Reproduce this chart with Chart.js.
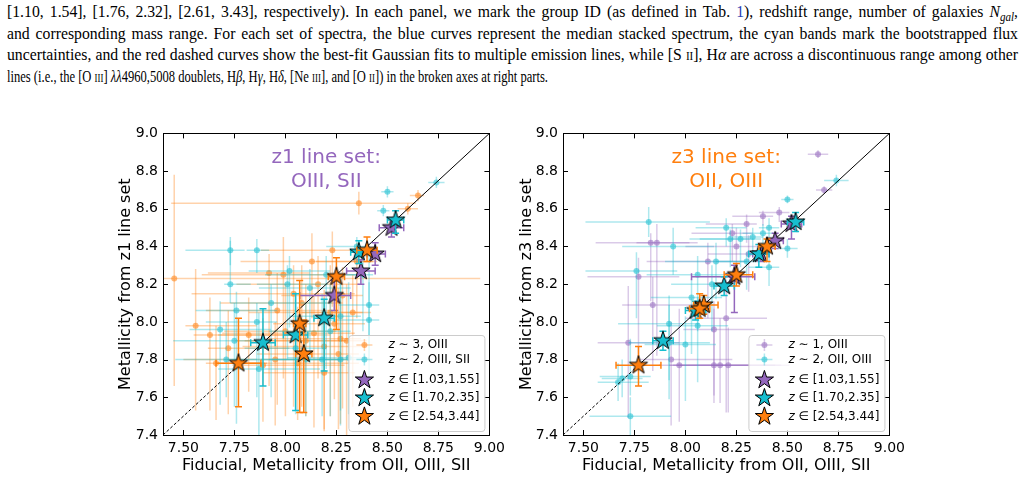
<!DOCTYPE html>
<html>
<head>
<meta charset="utf-8">
<script src="https://cdn.jsdelivr.net/npm/chart.js@4.4.1/dist/chart.umd.min.js"></script>
<style>
  html, body { margin: 0; padding: 0; background: #fff; }
  body { width: 1025px; height: 480px; position: relative; overflow: hidden; }
  .cap { position: absolute; left: 7px; transform-origin: 0 0; white-space: nowrap;
         font-family: 'Liberation Serif', serif; font-size: 17px; line-height: 21.7px; color: #000; }
  #cap13 { top: 1px; width: 3000px; }
  #cap4 { top: 66px; }
  #cap13.j .ln { white-space: normal; text-align: justify; text-align-last: justify; }
  .sc { font-variant: small-caps; }
  .ref { color: #2b3fb5; }
  sub { font-size: 70%; line-height: 0; }
  canvas { position: absolute; top: 120px; }
  #left { left: 100px; }
  #right { left: 500px; }
</style>
</head>
<body>
<div class="cap" id="cap13">
  <div class="ln"><span>[1.10, 1.54], [1.76, 2.32], [2.61, 3.43], respectively). In each panel, we mark the group ID (as defined in Tab. <span class="ref">1</span>), redshift range, number of galaxies <i>N<sub>gal</sub></i>,</span></div>
  <div class="ln"><span>and corresponding mass range. For each set of spectra, the blue curves represent the median stacked spectrum, the cyan bands mark the bootstrapped flux</span></div>
  <div class="ln"><span>uncertainties, and the red dashed curves show the best-fit Gaussian fits to multiple emission lines, while [S <span class="sc">ii</span>], H<i>α</i> are across a discontinuous range among other</span></div>
</div>
<div class="cap" id="cap4"><span id="l4">lines (i.e., the [O <span class="sc">iii</span>] <i>λλ</i>4960,5008 doublets, H<i>β</i>, H<i>γ</i>, H<i>δ</i>, [Ne <span class="sc">iii</span>], and [O <span class="sc">ii</span>]) in the broken axes at right parts.</span></div>
<canvas id="left" width="410" height="360"></canvas>
<canvas id="right" width="410" height="360"></canvas>
<script>
// ---- data ----
const xTicks = [7.5, 7.75, 8.0, 8.25, 8.5, 8.75, 9.0];
const yTicks = [7.4, 7.6, 7.8, 8.0, 8.2, 8.4, 8.6, 8.8, 9.0];
const oneToOne = [7.4, 9.0];
const dashedUpTo = 7.76;

// rows: [x, y, xErrLow, xErrHigh, yErrLow, yErrHigh]
// left panel: z1 line set (OIII, SII)
const z1BgZ3 = [
  [7.455, 8.23, 0.05, 1.50, 0.57, 0.55], [8.36, 8.63, 0.92, 0.28, 0.06, 0.06],
  [8.65, 8.67, 0.04, 0.03, 0.03, 0.03], [8.60, 8.60, 0.05, 0.05, 0.03, 0.03],
  [8.13, 8.32, 0.35, 0.30, 0.30, 0.15], [7.99, 8.25, 0.40, 0.35, 0.55, 0.20],
  [7.92, 8.26, 0.30, 0.20, 0.60, 0.10], [8.23, 8.38, 0.35, 0.15, 0.30, 0.10],
  [7.66, 7.78, 0.05, 0.25, 0.30, 0.20], [8.14, 7.94, 0.45, 0.20, 0.50, 0.20],
  [8.30, 7.90, 0.50, 0.10, 0.50, 0.30], [8.26, 7.83, 0.40, 0.10, 0.40, 0.35],
  [7.95, 7.80, 0.45, 0.35, 0.35, 0.20], [8.06, 7.78, 0.30, 0.30, 0.30, 0.30],
  [8.19, 7.73, 0.30, 0.15, 0.30, 0.40], [8.27, 7.91, 0.35, 0.10, 0.45, 0.25],
  [8.19, 7.87, 0.40, 0.20, 0.45, 0.30], [7.89, 7.77, 0.15, 0.40, 0.30, 0.25],
  [8.04, 8.15, 0.50, 0.30, 0.60, 0.15], [8.22, 8.05, 0.40, 0.20, 0.55, 0.25],
  [8.10, 7.90, 0.35, 0.20, 0.40, 0.30], [8.00, 7.95, 0.30, 0.25, 0.45, 0.25],
  [8.28, 8.14, 0.30, 0.10, 0.60, 0.15], [7.82, 7.93, 0.15, 0.40, 0.30, 0.20],
  [8.35, 8.32, 0.20, 0.10, 0.30, 0.10], [8.16, 8.20, 0.40, 0.20, 0.50, 0.15],
  [7.96, 8.06, 0.35, 0.30, 0.50, 0.20], [8.24, 7.99, 0.30, 0.15, 0.40, 0.20],
  [8.08, 8.10, 0.40, 0.20, 0.55, 0.20], [8.33, 8.05, 0.25, 0.05, 0.50, 0.20],
  [7.72, 7.86, 0.10, 0.30, 0.35, 0.20], [7.56, 7.98, 0.05, 0.30, 0.45, 0.30],
  [7.63, 7.93, 0.08, 0.40, 0.40, 0.20]
];
const z1BgZ2 = [
  [7.73, 8.38, 0.22, 0.07, 0.08, 0.05], [7.86, 8.38, 0.05, 0.06, 0.12, 0.06],
  [7.73, 8.20, 0.03, 0.10, 0.10, 0.25], [8.02, 8.27, 0.20, 0.20, 0.30, 0.08],
  [8.01, 8.20, 0.15, 0.20, 0.40, 0.10], [7.76, 8.06, 0.20, 0.20, 0.60, 0.10],
  [7.86, 8.00, 0.25, 0.10, 0.40, 0.10], [7.68, 7.96, 0.15, 0.25, 0.40, 0.15],
  [7.71, 7.80, 0.25, 0.15, 0.20, 0.20], [7.93, 8.10, 0.20, 0.30, 0.50, 0.10],
  [8.20, 8.25, 0.30, 0.15, 0.50, 0.10], [8.50, 8.69, 0.03, 0.03, 0.03, 0.03],
  [8.74, 8.74, 0.04, 0.04, 0.03, 0.03], [8.48, 8.59, 0.03, 0.03, 0.03, 0.03],
  [8.41, 8.01, 0.20, 0.05, 0.45, 0.20], [8.41, 8.09, 0.15, 0.05, 0.30, 0.30],
  [8.27, 8.03, 0.25, 0.10, 0.50, 0.20], [8.18, 7.80, 0.30, 0.10, 0.30, 0.35],
  [8.31, 7.81, 0.30, 0.10, 0.30, 0.40], [8.10, 7.80, 0.40, 0.20, 0.30, 0.30],
  [8.27, 7.80, 0.35, 0.10, 0.35, 0.40], [7.87, 7.75, 0.20, 0.30, 0.35, 0.30],
  [7.75, 7.90, 0.30, 0.15, 0.35, 0.20], [8.35, 8.40, 0.15, 0.05, 0.10, 0.05],
  [8.12, 8.18, 0.25, 0.20, 0.40, 0.10], [8.22, 7.95, 0.30, 0.10, 0.45, 0.25],
  [8.38, 8.25, 0.10, 0.05, 0.30, 0.10], [8.05, 7.86, 0.25, 0.15, 0.35, 0.30]
];
const z1StarsG1 = [
  [8.52, 8.50, 0.06, 0.06, 0.05, 0.05], [8.44, 8.36, 0.04, 0.05, 0.06, 0.06],
  [8.37, 8.27, 0.07, 0.07, 0.07, 0.06], [8.24, 8.14, 0.17, 0.08, 0.08, 0.08]
];
const z1StarsG2 = [
  [8.54, 8.54, 0.04, 0.04, 0.07, 0.05], [8.36, 8.37, 0.04, 0.05, 0.06, 0.06],
  [8.19, 8.02, 0.05, 0.05, 0.28, 0.10], [8.05, 7.93, 0.06, 0.06, 0.40, 0.22],
  [7.89, 7.89, 0.06, 0.06, 0.23, 0.18]
];
const z1StarsG3 = [
  [8.40, 8.38, 0.05, 0.05, 0.06, 0.07], [8.25, 8.24, 0.04, 0.04, 0.28, 0.10],
  [8.07, 7.99, 0.03, 0.03, 0.47, 0.23], [8.09, 7.83, 0.04, 0.04, 0.31, 0.18],
  [7.77, 7.78, 0.11, 0.11, 0.23, 0.24]
];

// right panel: z3 line set (OII, OIII)
const z3BgZ1 = [
  [8.65, 8.89, 0.05, 0.05, 0.02, 0.02], [8.68, 8.70, 0.04, 0.04, 0.02, 0.02],
  [7.83, 8.42, 0.27, 0.19, 0.31, 0.05], [7.86, 8.42, 0.10, 0.20, 0.60, 0.10],
  [7.77, 8.24, 0.25, 0.20, 0.45, 0.10], [7.84, 8.09, 0.15, 0.25, 0.35, 0.15],
  [7.72, 7.89, 0.15, 0.25, 0.40, 0.30], [7.93, 7.80, 0.15, 0.30, 0.35, 0.20],
  [7.97, 7.77, 0.10, 0.35, 0.30, 0.30], [8.14, 7.77, 0.20, 0.30, 0.20, 0.30],
  [8.17, 7.77, 0.25, 0.30, 0.20, 0.25], [8.21, 7.77, 0.25, 0.30, 0.25, 0.20],
  [8.20, 8.02, 0.20, 0.20, 0.50, 0.20], [8.14, 7.96, 0.15, 0.20, 0.35, 0.15],
  [8.11, 8.32, 0.30, 0.20, 0.30, 0.10], [8.30, 8.52, 0.20, 0.05, 0.10, 0.05],
  [8.31, 8.36, 0.20, 0.10, 0.20, 0.10], [8.46, 8.58, 0.10, 0.05, 0.05, 0.03],
  [8.38, 8.56, 0.15, 0.05, 0.05, 0.03], [8.25, 8.40, 0.25, 0.10, 0.20, 0.10],
  [8.23, 8.47, 0.20, 0.10, 0.15, 0.05]
];
const z3BgZ2 = [
  [7.82, 8.53, 0.31, 0.30, 0.08, 0.08], [7.94, 8.40, 0.25, 0.20, 0.15, 0.10],
  [7.76, 8.27, 0.25, 0.20, 0.25, 0.10], [7.92, 7.99, 0.25, 0.15, 0.30, 0.15],
  [8.06, 7.98, 0.20, 0.15, 0.30, 0.15], [7.73, 7.50, 0.20, 0.20, 0.10, 0.10],
  [7.67, 7.68, 0.10, 0.15, 0.10, 0.10], [7.69, 7.70, 0.10, 0.10, 0.10, 0.10],
  [7.73, 7.71, 0.15, 0.10, 0.10, 0.20], [8.50, 8.65, 0.03, 0.03, 0.02, 0.02],
  [8.74, 8.75, 0.06, 0.06, 0.03, 0.03], [8.20, 8.50, 0.15, 0.10, 0.10, 0.05],
  [8.22, 8.44, 0.20, 0.10, 0.15, 0.05], [8.27, 8.44, 0.20, 0.10, 0.15, 0.05],
  [8.33, 8.45, 0.10, 0.05, 0.10, 0.05], [8.41, 8.50, 0.05, 0.05, 0.05, 0.05],
  [8.50, 8.39, 0.05, 0.05, 0.05, 0.05], [8.41, 8.29, 0.10, 0.05, 0.10, 0.05],
  [8.03, 8.13, 0.20, 0.15, 0.30, 0.10], [8.15, 8.32, 0.25, 0.15, 0.20, 0.10],
  [7.92, 7.89, 0.20, 0.20, 0.30, 0.20], [8.13, 8.20, 0.20, 0.10, 0.25, 0.10],
  [8.30, 8.32, 0.15, 0.05, 0.15, 0.05], [8.38, 8.47, 0.10, 0.05, 0.10, 0.05],
  [8.06, 8.25, 0.25, 0.15, 0.30, 0.10], [8.00, 7.88, 0.20, 0.15, 0.30, 0.15]
];
const z3StarsG1 = [
  [8.52, 8.52, 0.05, 0.05, 0.08, 0.04], [8.44, 8.43, 0.04, 0.04, 0.04, 0.04],
  [8.37, 8.36, 0.04, 0.04, 0.04, 0.04], [8.24, 8.24, 0.21, 0.10, 0.19, 0.06]
];
const z3StarsG2 = [
  [8.54, 8.53, 0.04, 0.04, 0.05, 0.05], [8.36, 8.36, 0.05, 0.05, 0.07, 0.05],
  [8.19, 8.19, 0.05, 0.05, 0.05, 0.05], [8.05, 8.06, 0.05, 0.05, 0.05, 0.05],
  [7.89, 7.90, 0.05, 0.05, 0.05, 0.05]
];
const z3StarsG3 = [
  [8.40, 8.40, 0.04, 0.04, 0.08, 0.04], [8.25, 8.25, 0.06, 0.08, 0.06, 0.06],
  [8.09, 8.09, 0.05, 0.07, 0.05, 0.05], [8.07, 8.07, 0.05, 0.05, 0.05, 0.08],
  [7.77, 7.77, 0.11, 0.11, 0.11, 0.10]
];

const z1Labels = ['z ∼ 3, OIII', 'z ∼ 2, OIII, SII', 'z ∈ [1.03,1.55]', 'z ∈ [1.70,2.35]', 'z ∈ [2.54,3.44]'];
const z3Labels = ['z ∼ 1, OIII', 'z ∼ 2, OII, OIII', 'z ∈ [1.03,1.55]', 'z ∈ [1.70,2.35]', 'z ∈ [2.54,3.44]'];

// ---- style ----
const FONT = 'DejaVu Sans';
const PURPLE = '#9467bd', CYAN = '#17becf', ORANGE = '#ff7f0e';
const STAR_R = 9.6;

Chart.defaults.font.family = FONT;
Chart.defaults.color = '#000';

function rgba(hex, a) {
  const n = parseInt(hex.slice(1), 16);
  return 'rgba(' + (n >> 16) + ',' + ((n >> 8) & 255) + ',' + (n & 255) + ',' + a + ')';
}

function starPath(g, cx, cy, R) {
  g.beginPath();
  for (let i = 0; i < 10; i++) {
    const r = i % 2 ? R * 0.382 : R;
    const a = -Math.PI / 2 + i * Math.PI / 5;
    g.lineTo(cx + r * Math.cos(a), cy + r * Math.sin(a));
  }
  g.closePath();
}

function starImage(color) {
  const c = document.createElement('canvas');
  const s = Math.ceil(2 * STAR_R + 4);
  c.width = c.height = s;
  const g = c.getContext('2d');
  starPath(g, s / 2, s / 2, STAR_R);
  g.fillStyle = color;
  g.fill();
  g.lineWidth = 1;
  g.strokeStyle = '#000';
  g.stroke();
  return c;
}

function pts(rows) {
  return rows.map(r => ({ x: r[0], y: r[1] }));
}

function drawBars(ctx, xs, ys, r, cap) {
  const px = xs.getPixelForValue(r[0]), py = ys.getPixelForValue(r[1]);
  const x0 = xs.getPixelForValue(r[0] - r[2]), x1 = xs.getPixelForValue(r[0] + r[3]);
  const y0 = ys.getPixelForValue(r[1] - r[4]), y1 = ys.getPixelForValue(r[1] + r[5]);
  ctx.beginPath();
  ctx.moveTo(x0, py); ctx.lineTo(x1, py);
  ctx.moveTo(px, y0); ctx.lineTo(px, y1);
  if (cap) {
    ctx.moveTo(x0, py - cap); ctx.lineTo(x0, py + cap);
    ctx.moveTo(x1, py - cap); ctx.lineTo(x1, py + cap);
    ctx.moveTo(px - cap, y0); ctx.lineTo(px + cap, y0);
    ctx.moveTo(px - cap, y1); ctx.lineTo(px + cap, y1);
  }
  ctx.stroke();
}

// error bars go right under their own points
const errorBars = {
  id: 'errorBars',
  beforeDatasetDraw(chart, args) {
    const ds = chart.data.datasets[args.index];
    if (!ds.rows) return;
    const ctx = chart.ctx, a = chart.chartArea;
    ctx.save();
    ctx.beginPath();
    ctx.rect(a.left, a.top, a.right - a.left, a.bottom - a.top);
    ctx.clip();
    ctx.strokeStyle = ds.barColor;
    ctx.lineWidth = ds.barWidth;
    ds.rows.forEach(r => drawBars(ctx, chart.scales.x, chart.scales.y, r, ds.cap));
    ctx.restore();
  }
};

function mathLabel(ctx, text, x, y, size) {
  ctx.textBaseline = 'middle';
  ctx.textAlign = 'left';
  ctx.font = 'italic ' + size + 'px ' + FONT;
  ctx.fillText(text[0], x, y);
  const w = ctx.measureText(text[0]).width;
  ctx.font = size + 'px ' + FONT;
  ctx.fillText(text.slice(1), x + w, y);
}

// frame, inward ticks on all sides, panel note and legend
const decor = {
  id: 'decor',
  afterDatasetsDraw(chart, args, opts) {
    const ctx = chart.ctx, a = chart.chartArea;
    const xs = chart.scales.x, ys = chart.scales.y;
    ctx.save();
    ctx.strokeStyle = '#000';
    ctx.lineWidth = 1;
    ctx.beginPath();
    xs.ticks.forEach(t => {
      const p = Math.round(xs.getPixelForValue(t.value)) + 0.5;
      ctx.moveTo(p, a.bottom); ctx.lineTo(p, a.bottom - 5);
      ctx.moveTo(p, a.top); ctx.lineTo(p, a.top + 5);
    });
    ys.ticks.forEach(t => {
      const p = Math.round(ys.getPixelForValue(t.value)) + 0.5;
      ctx.moveTo(a.left, p); ctx.lineTo(a.left + 5, p);
      ctx.moveTo(a.right, p); ctx.lineTo(a.right - 5, p);
    });
    ctx.stroke();
    ctx.strokeRect(Math.round(a.left) + 0.5, Math.round(a.top) + 0.5,
                   Math.round(a.right - a.left), Math.round(a.bottom - a.top));

    // panel note
    ctx.fillStyle = opts.noteColor;
    ctx.font = '20px ' + FONT;
    ctx.textAlign = 'center';
    ctx.textBaseline = 'middle';
    const cx = (a.left + a.right) / 2;
    opts.note.forEach((s, i) => ctx.fillText(s, cx, a.top + 24 + i * 24));

    // legend
    const bw = 136, bh = 96;
    const bx = a.right - 5 - bw, by = a.bottom - 4 - bh;
    ctx.beginPath();
    ctx.roundRect(bx + 0.5, by + 0.5, bw, bh, 3);
    ctx.fillStyle = 'rgba(255,255,255,0.8)';
    ctx.fill();
    ctx.strokeStyle = '#cccccc';
    ctx.stroke();
    const rowsY = [10, 24.5, 45, 63, 81.5];
    const mx = bx + 16, tx = bx + 40;
    opts.labels.forEach((lab, i) => {
      const y = by + rowsY[i];
      const col = opts.colors[i];
      if (i < 2) {
        ctx.strokeStyle = rgba(col, 0.35);
        ctx.lineWidth = 1.5;
        ctx.beginPath();
        ctx.moveTo(mx - 8, y); ctx.lineTo(mx + 8, y);
        ctx.moveTo(mx, y - 6); ctx.lineTo(mx, y + 6);
        ctx.stroke();
        ctx.fillStyle = rgba(col, 0.55);
        ctx.beginPath();
        ctx.arc(mx, y, 3, 0, Math.PI * 2);
        ctx.fill();
      } else {
        starPath(ctx, mx, y, STAR_R);
        ctx.fillStyle = col;
        ctx.fill();
        ctx.lineWidth = 1;
        ctx.strokeStyle = '#000';
        ctx.stroke();
      }
      ctx.fillStyle = '#000';
      mathLabel(ctx, lab, tx, y, 12);
    });
    ctx.restore();
  }
};

function bgSet(rows, color, order) {
  return {
    data: pts(rows), rows: rows, order: order,
    barColor: rgba(color, 0.35), barWidth: 1.5, cap: 0,
    pointRadius: 3, pointBackgroundColor: rgba(color, 0.55), pointBorderWidth: 0
  };
}

function starSet(rows, color, order) {
  return {
    data: pts(rows), rows: rows, order: order,
    barColor: color, barWidth: 1.5, cap: 3.5,
    pointStyle: starImage(color)
  };
}

function lineSet(from, to, dash) {
  return {
    data: [{ x: from, y: from }, { x: to, y: to }], order: 5,
    showLine: true, borderColor: '#000', borderWidth: 1, borderDash: dash, pointRadius: 0
  };
}

function makePanel(id, cfg) {
  new Chart(document.getElementById(id), {
    type: 'scatter',
    data: {
      datasets: [
        bgSet(cfg.bgA, cfg.bgColorA, 10),
        bgSet(cfg.bgB, CYAN, 9),
        lineSet(oneToOne[0], dashedUpTo, [3, 2]),
        lineSet(dashedUpTo, oneToOne[1], []),
        starSet(cfg.g1, PURPLE, 3),
        starSet(cfg.g2, CYAN, 2),
        starSet(cfg.g3, ORANGE, 1)
      ]
    },
    options: {
      responsive: false,
      animation: false,
      devicePixelRatio: 1,
      events: [],
      layout: { padding: { left: 0, top: 13, right: cfg.padRight, bottom: 0 } },
      scales: {
        x: {
          type: 'linear', min: oneToOne[0], max: oneToOne[1],
          afterBuildTicks: s => { s.ticks = xTicks.map(v => ({ value: v })); },
          afterFit: s => { s.height = 45; },
          grid: { display: false, drawTicks: false },
          border: { display: false },
          ticks: { font: { size: 14 }, color: '#000', padding: 5, autoSkip: false, maxRotation: 0,
                   callback: v => v.toFixed(2) },
          title: { display: true, text: 'Fiducial, Metallicity from OII, OIII, SII', color: '#000',
                   font: { size: 16 }, padding: { top: 0, bottom: 5 } }
        },
        y: {
          type: 'linear', min: oneToOne[0], max: oneToOne[1],
          afterBuildTicks: s => { s.ticks = yTicks.map(v => ({ value: v })); },
          afterFit: s => { s.width = 63; },
          grid: { display: false, drawTicks: false },
          border: { display: false },
          ticks: { font: { size: 14 }, color: '#000', padding: 5, autoSkip: false,
                   callback: v => v.toFixed(1) },
          title: { display: true, text: cfg.yTitle, color: '#000',
                   font: { size: 16 }, padding: { top: cfg.yTitlePad, bottom: 0 } }
        }
      },
      plugins: {
        legend: { display: false },
        tooltip: { enabled: false },
        decor: { note: cfg.note, noteColor: cfg.noteColor, labels: cfg.labels,
                 colors: [cfg.bgColorA, CYAN, PURPLE, CYAN, ORANGE] }
      }
    },
    plugins: [errorBars, decor]
  });
}

// caption: justified lines squeezed to the page width, short last line to where it ends
const cap13 = document.getElementById('cap13');
let widest = 0;
cap13.querySelectorAll('.ln > span').forEach(s => { widest = Math.max(widest, s.getBoundingClientRect().width); });
const s13 = 1011 / (widest + 4);
cap13.style.width = (1011 / s13) + 'px';
cap13.style.transform = 'scaleX(' + s13 + ')';
cap13.classList.add('j');
const l4 = document.getElementById('l4');
document.getElementById('cap4').style.transform = 'scaleX(' + (541 / l4.getBoundingClientRect().width) + ')';

makePanel('left', {
  bgA: z1BgZ3, bgColorA: ORANGE, bgB: z1BgZ2,
  g1: z1StarsG1, g2: z1StarsG2, g3: z1StarsG3,
  yTitle: 'Metallicity from z1 line set', yTitlePad: 16, padRight: 17,
  note: ['z1 line set:', 'OIII, SII'], noteColor: PURPLE, labels: z1Labels
});
makePanel('right', {
  bgA: z3BgZ1, bgColorA: PURPLE, bgB: z3BgZ2,
  g1: z3StarsG1, g2: z3StarsG2, g3: z3StarsG3,
  yTitle: 'Metallicity from z3 line set', yTitlePad: 17, padRight: 18,
  note: ['z3 line set:', 'OII, OIII'], noteColor: ORANGE, labels: z3Labels
});
</script>
</body>
</html>
